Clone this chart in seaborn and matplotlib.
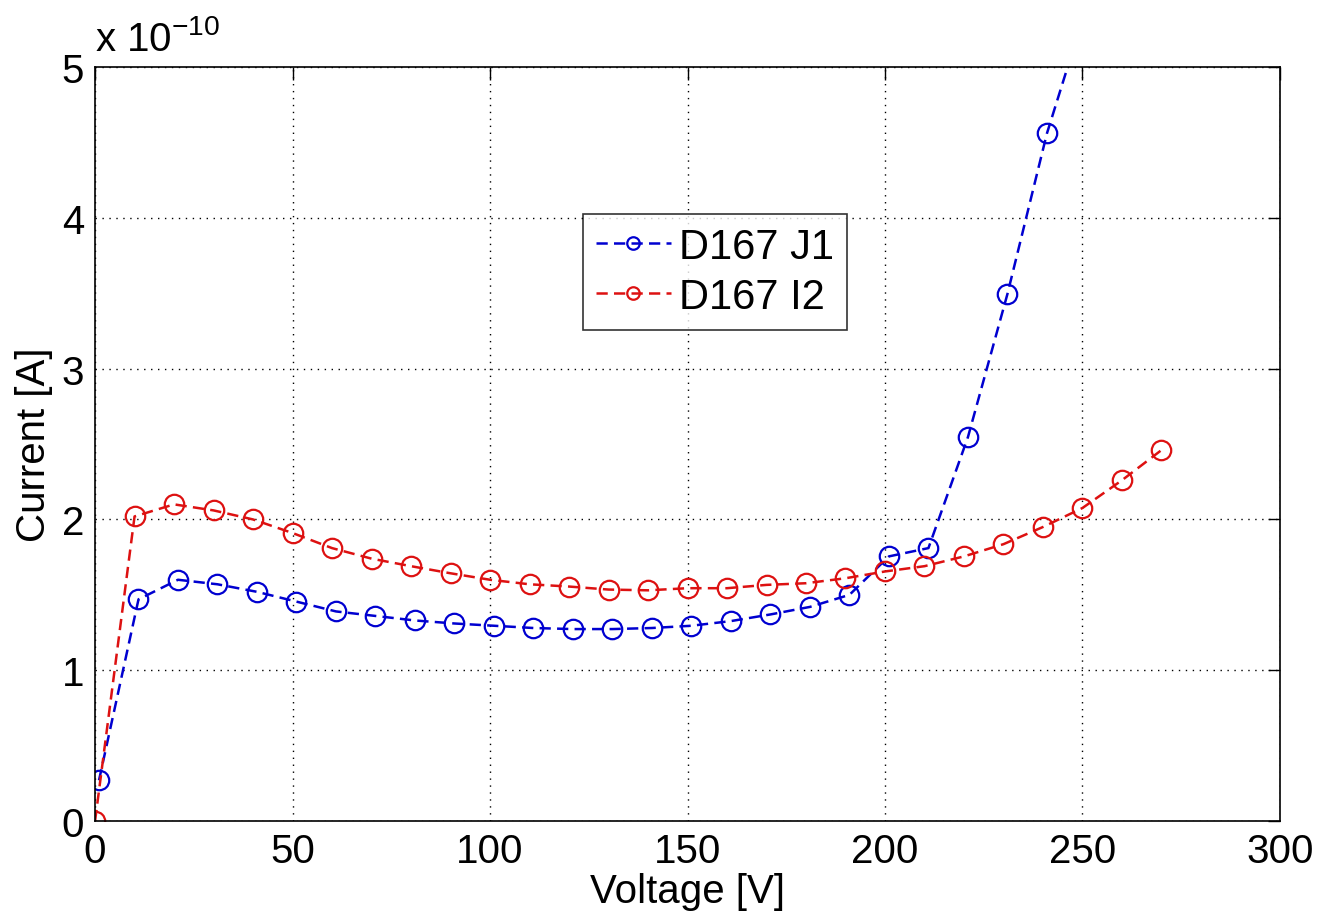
import numpy as np
import pandas as pd
import seaborn as sns
import matplotlib
matplotlib.use("Agg")
import matplotlib.pyplot as plt

# data (current in units of 1e-10 A)
voltage_j1 = [1, 11, 21, 31, 41, 51, 61, 71, 81, 91, 101, 111, 121, 131, 141,
              151, 161, 171, 181, 191, 201, 211, 221, 231, 241, 251]
current_j1 = [0.27, 1.47, 1.60, 1.57, 1.52, 1.455, 1.39, 1.36, 1.33, 1.31, 1.295,
              1.28, 1.273, 1.273, 1.28, 1.295, 1.326, 1.37, 1.42, 1.50, 1.755,
              1.81, 2.546, 3.495, 4.56, 5.40]
voltage_i2 = [0, 10, 20, 30, 40, 50, 60, 70, 80, 90, 100, 110, 120, 130, 140,
              150, 160, 170, 180, 190, 200, 210, 220, 230, 240, 250, 260, 270]
current_i2 = [0.0, 2.02, 2.10, 2.06, 2.00, 1.91, 1.81, 1.74, 1.69, 1.643, 1.60,
              1.57, 1.555, 1.535, 1.53, 1.544, 1.544, 1.566, 1.577, 1.61, 1.655,
              1.69, 1.755, 1.836, 1.95, 2.076, 2.26, 2.46]
labels = ["D167 J1", "D167 I2"]
colors = ["#0000d0", "#dd1111"]
x_ticks = [0, 50, 100, 150, 200, 250, 300]
y_ticks = [0, 1, 2, 3, 4, 5]

sns.set_style("white")
plt.rcParams["font.family"] = ["Liberation Sans", "DejaVu Sans"]
plt.rcParams["mathtext.fontset"] = "custom"
plt.rcParams["mathtext.rm"] = "Liberation Sans"
for k in ["text.color", "axes.labelcolor", "xtick.color", "ytick.color"]:
    plt.rcParams[k] = "black"

df_j1 = pd.DataFrame({"voltage": voltage_j1, "current": current_j1})
df_i2 = pd.DataFrame({"voltage": voltage_i2, "current": current_i2})

fig = plt.figure(figsize=(13.22, 9.2), dpi=100)
ax = fig.add_axes([0.0719, 0.1065, 0.8963, 0.8195])

for d, lab, c in zip([df_j1, df_i2], labels, colors):
    sns.lineplot(data=d, x="voltage", y="current", ax=ax, label=lab, color=c,
                 linestyle="--", linewidth=1.8, marker="o", markersize=14,
                 markerfacecolor="none", markeredgecolor=c, markeredgewidth=1.6,
                 errorbar=None, sort=False, dashes=False)
for line in ax.get_lines():
    line.set_dashes([4.5, 2.5])

ax.set_xlim(0, 300)
ax.set_ylim(0, 5)
ax.set_xticks(x_ticks)
ax.set_yticks(y_ticks)
ax.set_xticklabels([str(t) for t in x_ticks])
ax.set_yticklabels([str(t) for t in y_ticks])
ax.tick_params(direction="in", length=9, width=1, labelsize=29, pad=8,
               top=True, right=True)
ax.grid(True, linestyle=(0, (1, 4)), color="black", linewidth=1)
for s in ax.spines.values():
    s.set_color("black")
    s.set_linewidth(1.2)

ax.set_xlabel("Voltage [V]", fontsize=29, labelpad=1)
ax.set_ylabel("Current [A]", fontsize=29, labelpad=6)
ax.text(0.0, 1.012, r"x 10$^{\mathregular{-10}}$", transform=ax.transAxes,
        fontsize=29, ha="left", va="bottom")

leg = ax.legend(loc="upper left", bbox_to_anchor=(0.412, 0.805), fontsize=30,
                frameon=True, fancybox=False, edgecolor="black",
                handlelength=1.8, handletextpad=0.2, borderpad=0.3,
                labelspacing=0.25, borderaxespad=0)
leg.get_frame().set_linewidth(1.2)
for h in leg.get_lines():
    h.set_markersize(9)

fig.savefig("out.png", dpi=100)
